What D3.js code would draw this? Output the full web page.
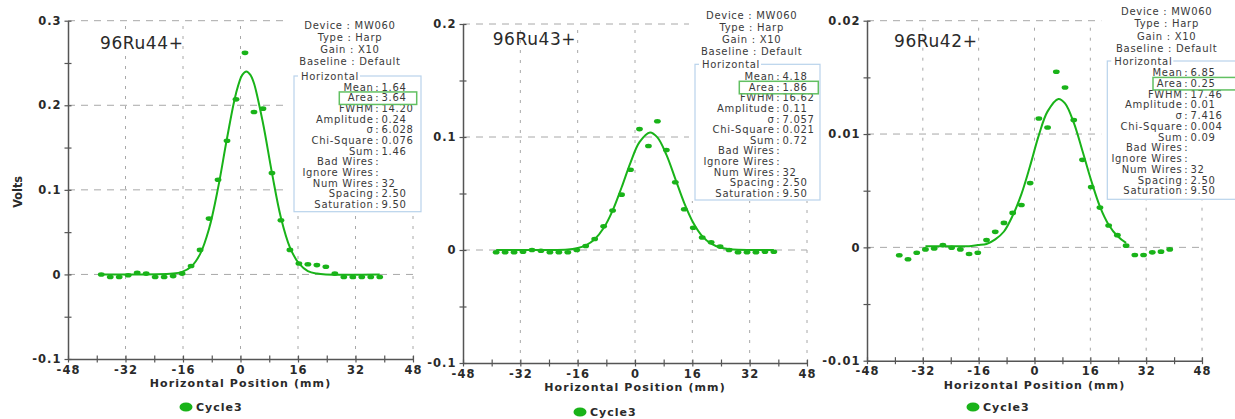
<!DOCTYPE html>
<html>
<head>
<meta charset="utf-8">
<script src="https://cdn.jsdelivr.net/npm/d3@7"></script>
<style>
  body { margin: 0; background: #fff; }
  svg text { font-family: "DejaVu Sans", sans-serif; }
</style>
</head>
<body>
<svg id="chart"></svg>
<script>
// wire positions (mm), 32 wires at 2.5 mm spacing
const wirePos = [-38.75, -36.25, -33.75, -31.25, -28.75, -26.25, -23.75, -21.25,
  -18.75, -16.25, -13.75, -11.25, -8.75, -6.25, -3.75, -1.25,
  1.25, 3.75, 6.25, 8.75, 11.25, 13.75, 16.25, 18.75,
  21.25, 23.75, 26.25, 28.75, 31.25, 33.75, 36.25, 38.75];

// measured volts per wire
const ru44Volts = [0, -0.003, -0.003, -0.001, 0.002, 0.001, -0.003, -0.003,
  -0.002, 0.001, 0.010, 0.029, 0.066, 0.112, 0.158, 0.207,
  0.262, 0.192, 0.196, 0.120, 0.064, 0.029, 0.013, 0.012,
  0.011, 0.009, 0.001, -0.003, -0.003, -0.003, -0.003, -0.003];
const ru43Volts = [-0.002, -0.002, -0.002, -0.0015, 0, -0.0006, -0.002, -0.002,
  -0.002, 0, 0.0035, 0.0097, 0.021, 0.035, 0.049, 0.071,
  0.107, 0.092, 0.114, 0.0885, 0.060, 0.036, 0.0197, 0.011,
  0.0068, 0.003, 0, -0.002, -0.002, -0.002, -0.0015, -0.0015];
const ru42Volts = [-0.0007, -0.00105, -0.00047, -0.00018, -0.0001, 0.0002, -0.00003, -0.00018,
  -0.00058, -0.00047, 0.00064, 0.00137, 0.00216, 0.00304, 0.00374, 0.00567,
  0.01137, 0.01058, 0.0155, 0.0141, 0.01123, 0.00772, 0.00532, 0.00351,
  0.00193, 0.00108, 0.00015, -0.00067, -0.00067, -0.00044, -0.00038, -0.00018];

// fit curves
const ru44FitPos = [-38.75, -18.75, -16.25, -13.75, -11.25, -8.75, -6.25, -3.75, -1.25, 0.5, 1.64, 2.75, 3.75, 6.25, 8.75, 11.25, 13.75, 16.25, 18.75, 21.25, 23.75, 38.75];
const ru44Fit = [0, 0.001, 0.003, 0.009, 0.024, 0.054, 0.102, 0.161, 0.214, 0.236, 0.240, 0.236, 0.226, 0.179, 0.120, 0.067, 0.032, 0.013, 0.004, 0.001, 0, 0];
const ru43FitPos = [-38.75, -18.75, -16.25, -13.75, -11.25, -8.75, -6.25, -3.75, -1.25, 1.25, 4.18, 6.25, 8.75, 11.25, 13.75, 16.25, 18.75, 21.25, 23.75, 26.25, 28.75, 38.75];
const ru43Fit = [0, 0.0005, 0.0016, 0.0041, 0.0095, 0.0194, 0.0349, 0.0553, 0.0774, 0.0954, 0.104, 0.0996, 0.0844, 0.0630, 0.0415, 0.0241, 0.0123, 0.0056, 0.0022, 0.0008, 0.0002, 0];
const ru42FitPos = [-31.25, -28.75, -26.25, -23.75, -21.25, -18.75, -16.25, -13.75, -11.25, -8.75, -6.25, -3.75, -1.25, 1.25, 3.75, 6.85, 8.75, 11.25, 13.75, 16.25, 18.75, 21.25, 23.75, 26.25];
const ru42Fit = [0.0001, 0.0001, 0.0001, 0.0001, 0.0001, 0.0001, 0.0002, 0.0003, 0.0007, 0.0014, 0.0028, 0.0047, 0.0072, 0.0099, 0.0120, 0.0131, 0.0127, 0.0110, 0.0085, 0.0059, 0.0036, 0.0020, 0.0010, 0.0004];

// axis ticks
const xMajor = [-48, -32, -16, 0, 16, 32, 48];
const xLabels = ["-48", "-32", "-16", "0", "16", "32", "48"];
const xMinor = [-40, -24, -8, 8, 24, 40];
const yMajor1 = [-0.1, 0, 0.1, 0.2, 0.3];
const yLabels1 = ["-0.1", "0", "0.1", "0.2", "0.3"];
const yMinor1 = [-0.05, 0.05, 0.15, 0.25];
const yMajor2 = [-0.1, 0, 0.1, 0.2];
const yLabels2 = ["-0.1", "0", "0.1", "0.2"];
const yMinor2 = [-0.05, 0.05, 0.15];
const yMajor3 = [-0.01, 0, 0.01, 0.02];
const yLabels3 = ["-0.01", "0", "0.01", "0.02"];
const yMinor3 = [-0.005, 0.005, 0.015];

// info panel text
const headerLines = ["Device : MW060", "Type : Harp", "Gain : X10", "Baseline : Default"];
const statLabels = ["Mean", "Area", "FWHM", "Amplitude", "σ", "Chi-Square", "Sum",
  "Bad Wires", "Ignore Wires", "Num Wires", "Spacing", "Saturation"];
const ru44Stats = ["1.64", "3.64", "14.20", "0.24", "6.028", "0.076", "1.46", "", "", "32", "2.50", "9.50"];
const ru43Stats = ["4.18", "1.86", "16.62", "0.11", "7.057", "0.021", "0.72", "", "", "32", "2.50", "9.50"];
const ru42Stats = ["6.85", "0.25", "17.46", "0.01", "7.416", "0.004", "0.09", "", "", "32", "2.50", "9.50"];

const seriesName = "Cycle3";
const green = "#19b319";

const W = 1235, H = 419;
const svg = d3.select("#chart").attr("width", W).attr("height", H);
svg.append("rect").attr("width", W).attr("height", H).attr("fill", "#fff");

function drawPanel(cfg) {
  const x = d3.scaleLinear().domain([-48, 48]).range([cfg.x0, cfg.x1]);
  const y = d3.scaleLinear().domain([cfg.yMajor[0], cfg.yMajor[cfg.yMajor.length - 1]])
    .range([cfg.yBottom, cfg.yTop]);
  const g = svg.append("g");

  // grid
  g.selectAll(".hgrid").data(cfg.yMajor.slice(1)).enter().append("line")
    .attr("x1", cfg.x0).attr("x2", cfg.x1)
    .attr("y1", (d) => y(d)).attr("y2", (d) => y(d))
    .attr("stroke", "#a8a8a8").attr("stroke-width", 1)
    .attr("stroke-dasharray", "7,6");
  g.selectAll(".vgrid").data(xMajor.slice(1)).enter().append("line")
    .attr("x1", (d) => x(d)).attr("x2", (d) => x(d))
    .attr("y1", cfg.yBottom).attr("y2", cfg.yTop)
    .attr("stroke", "#a8a8a8").attr("stroke-width", 1)
    .attr("stroke-dasharray", "3,7");

  // axes
  const yAxis = d3.axisLeft(y)
    .tickValues(cfg.yMajor.concat(cfg.yMinor))
    .tickSize(3.5).tickSizeOuter(0).tickPadding(3)
    .tickFormat((d) => {
      const i = cfg.yMajor.indexOf(d);
      return i < 0 ? "" : cfg.yLabels[i];
    });
  const ay = g.append("g").attr("transform", `translate(${cfg.x0},0)`).call(yAxis);

  const xAxis = d3.axisBottom(x)
    .tickValues(xMajor.concat(xMinor))
    .tickSize(3.5).tickSizeOuter(0).tickPadding(3)
    .tickFormat((d) => {
      const i = xMajor.indexOf(d);
      return i < 0 ? "" : xLabels[i];
    });
  const ax = g.append("g").attr("transform", `translate(0,${cfg.yBottom})`).call(xAxis);

  [ay, ax].forEach((a) => {
    a.attr("font-family", null).attr("font-size", null);
    a.select(".domain").attr("stroke", "#555").attr("stroke-width", 1.5);
    a.selectAll(".tick line").attr("stroke", "#555").attr("stroke-width", 1.2);
    a.selectAll(".tick text")
      .attr("fill", "#2a2a2a")
      .style("font-size", "11.5px").style("font-weight", "bold")
      .style("letter-spacing", "1px");
  });
  ay.selectAll(".tick line").attr("x1", 3.5).attr("x2", -3.5);
  ax.selectAll(".tick line").attr("y1", -3.5).attr("y2", 3.5);

  // x title
  g.append("text")
    .attr("x", (cfg.x0 + cfg.x1) / 2).attr("y", cfg.yBottom + 28)
    .attr("text-anchor", "middle").attr("fill", "#2a2a2a")
    .style("font-size", "11px").style("font-weight", "bold").style("letter-spacing", "1.1px")
    .text("Horizontal Position (mm)");

  if (cfg.yTitle) {
    g.append("text")
      .attr("transform", `translate(22,${(cfg.yTop + cfg.yBottom) / 2 + 2}) rotate(-90)`)
      .attr("text-anchor", "middle").attr("fill", "#2a2a2a")
      .style("font-family", '"DejaVu Sans Condensed", "DejaVu Sans", sans-serif')
      .style("font-size", "12.5px").style("font-weight", "bold")
      .text(cfg.yTitle);
  }

  // fit line
  const line = d3.line()
    .x((d) => x(d[0])).y((d) => y(d[1]))
    .curve(d3.curveCatmullRom.alpha(0.5));
  g.append("path")
    .datum(d3.zip(cfg.fitPos, cfg.fit))
    .attr("d", line)
    .attr("fill", "none").attr("stroke", green).attr("stroke-width", 2);

  // points
  g.selectAll(".pt").data(d3.zip(wirePos, cfg.volts)).enter().append("ellipse")
    .attr("cx", (d) => x(d[0])).attr("cy", (d) => y(d[1]))
    .attr("rx", 3.4).attr("ry", 2.3)
    .attr("fill", green);

  // title
  g.append("text")
    .attr("x", cfg.titleX).attr("y", cfg.titleY)
    .attr("fill", "#2a2a2a")
    .style("font-size", "17px").style("letter-spacing", "0.6px")
    .text(cfg.title);

  // info block
  const info = g.append("g");
  info.append("rect")
    .attr("x", cfg.boxX0 - 6).attr("y", 0)
    .attr("width", cfg.boxX1 - cfg.boxX0 + 12).attr("height", cfg.boxY1 + 1)
    .attr("fill", "#fff");
  info.selectAll(".hdr").data(headerLines).enter().append("text")
    .attr("x", cfg.headerX).attr("y", (d, i) => cfg.headerY + i * 12.2 + 3.5)
    .attr("text-anchor", "middle").attr("fill", "#3a3a3a")
    .style("font-size", "10px").style("letter-spacing", "0.7px")
    .text((d) => d);
  info.append("rect")
    .attr("x", cfg.boxX0).attr("y", cfg.boxY0)
    .attr("width", cfg.boxX1 - cfg.boxX0).attr("height", cfg.boxY1 - cfg.boxY0)
    .attr("fill", "none").attr("stroke", "#b9d3ec").attr("stroke-width", 1.2);
  info.append("rect")
    .attr("x", cfg.boxX0 + 4).attr("y", cfg.boxY0 - 6)
    .attr("width", 62).attr("height", 12).attr("fill", "#fff");
  info.append("text")
    .attr("x", cfg.boxX0 + 7).attr("y", cfg.boxY0 + 3.5)
    .attr("fill", "#3a3a3a")
    .style("font-size", "10px").style("letter-spacing", "0.7px")
    .text("Horizontal");

  const rows = info.selectAll(".row").data(statLabels).enter().append("g")
    .attr("transform", (d, i) => `translate(${cfg.colonX},${cfg.rowY + i * cfg.rowStep + 3.5})`);
  rows.append("text").attr("x", -3.5).attr("text-anchor", "end")
    .attr("fill", "#3a3a3a").style("font-size", "10px").style("letter-spacing", "0.7px")
    .text((d) => d);
  rows.append("text").attr("x", 0).attr("text-anchor", "middle")
    .attr("fill", "#3a3a3a").style("font-size", "10px")
    .text(":");
  rows.append("text").attr("x", 4.5)
    .attr("fill", "#3a3a3a").style("font-size", "10px").style("letter-spacing", "0.7px")
    .text((d, i) => cfg.stats[i]);

  info.append("rect")
    .attr("x", cfg.areaX0).attr("y", cfg.rowY + cfg.rowStep - 6)
    .attr("width", cfg.areaX1 - cfg.areaX0).attr("height", 12.5)
    .attr("fill", "none").attr("stroke", "#62c062").attr("stroke-width", 1.5);

  // legend
  const lg = g.append("g").attr("transform", `translate(${cfg.legendX},${cfg.legendY})`);
  lg.append("ellipse").attr("cx", 0).attr("cy", 0).attr("rx", 6.5).attr("ry", 4.5).attr("fill", green);
  lg.append("text").attr("x", 10).attr("y", 4)
    .attr("fill", "#2a2a2a")
    .style("font-size", "11px").style("font-weight", "bold").style("letter-spacing", "1px")
    .text(seriesName);
}

drawPanel({
  title: "96Ru44+", titleX: 100, titleY: 48.5, yTitle: "Volts",
  x0: 68, x1: 413, yTop: 20.7, yBottom: 359,
  yMajor: yMajor1, yLabels: yLabels1, yMinor: yMinor1,
  volts: ru44Volts, fitPos: ru44FitPos, fit: ru44Fit, stats: ru44Stats,
  headerX: 350, headerY: 25,
  boxX0: 294, boxX1: 421, boxY0: 76, boxY1: 211.7,
  colonX: 377, rowY: 87.3, rowStep: 10.65, areaX0: 339.3, areaX1: 416.7,
  legendX: 186, legendY: 407
});

drawPanel({
  title: "96Ru43+", titleX: 492.7, titleY: 45,
  x0: 463, x1: 807, yTop: 24, yBottom: 363,
  yMajor: yMajor2, yLabels: yLabels2, yMinor: yMinor2,
  volts: ru43Volts, fitPos: ru43FitPos, fit: ru43Fit, stats: ru43Stats,
  headerX: 751.7, headerY: 15,
  boxX0: 695, boxX1: 820, boxY0: 64.3, boxY1: 200,
  colonX: 778, rowY: 76.7, rowStep: 10.6, areaX0: 739.3, areaX1: 818.3,
  legendX: 580, legendY: 412
});

drawPanel({
  title: "96Ru42+", titleX: 894, titleY: 47.3,
  x0: 867, x1: 1202, yTop: 20.7, yBottom: 360.7,
  yMajor: yMajor3, yLabels: yLabels3, yMinor: yMinor3,
  volts: ru42Volts, fitPos: ru42FitPos, fit: ru42Fit, stats: ru42Stats,
  headerX: 1166.7, headerY: 11.7,
  boxX0: 1107.3, boxX1: 1242, boxY0: 61, boxY1: 199.3,
  colonX: 1186, rowY: 72.7, rowStep: 10.73, areaX0: 1153, areaX1: 1242,
  legendX: 973, legendY: 407
});
</script>
</body>
</html>
